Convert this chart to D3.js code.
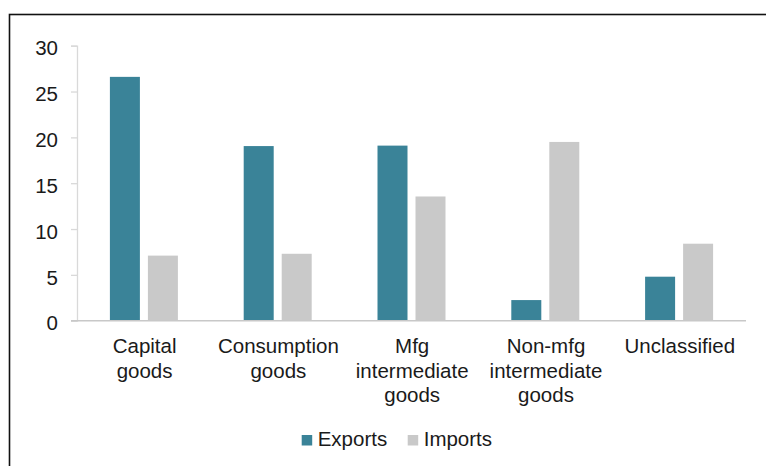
<!DOCTYPE html>
<html><head><meta charset="utf-8">
<script src="https://cdn.jsdelivr.net/npm/d3@7"></script>
<style>
html,body{margin:0;padding:0;background:#fff;}
svg{display:block;font-family:"Liberation Sans",Arial,sans-serif;}
</style></head>
<body>
<svg id="chart" width="766" height="466"></svg>
<script>
const categories = [["Capital","goods"],["Consumption","goods"],["Mfg","intermediate","goods"],["Non-mfg","intermediate","goods"],["Unclassified"]];
const seriesNames = ["Exports","Imports"];
const exportsVals = [26.6, 19.05, 19.1, 2.25, 4.8];
const importsVals = [7.1, 7.3, 13.55, 19.5, 8.4];
const yTicks = [0,5,10,15,20,25,30];
const colors = ["#3a8398","#c9c9c9"];

const svg = d3.select("#chart");
// frame
svg.append("rect").attr("x",9.5).attr("y",14.5).attr("width",800).attr("height",500)
  .attr("fill","none").attr("stroke","#111").attr("stroke-width",1.6);

const y = d3.scaleLinear().domain([0,30]).range([320.7,45.7]);
const x0 = d3.scaleBand().domain(d3.range(categories.length)).range([77,746]).paddingInner(0).paddingOuter(0);
const x1 = d3.scaleBand().domain(seriesNames).range([0,68]).paddingInner(2-68/38).paddingOuter(0);
const offset = (x0.bandwidth()-68)/2;

const yAxis = d3.axisLeft(y).tickValues(yTicks).tickSize(6).tickPadding(13);
const gy = svg.append("g").attr("transform","translate(77,0)").call(yAxis);
gy.select(".domain").attr("stroke","#d9d9d9").attr("stroke-width",1.3);
gy.selectAll(".tick line").attr("stroke","#d9d9d9").attr("stroke-width",1.3);
gy.selectAll(".tick text").attr("fill","#1a1a1a").style("font-size","20.5px").attr("dy","0.45em");

const data = [exportsVals, importsVals];
data.forEach((vals,si)=>{
  svg.append("g").selectAll("rect").data(vals).enter().append("rect")
    .attr("x",(d,i)=>x0(i)+offset+x1(seriesNames[si]))
    .attr("y",d=>y(d))
    .attr("width",x1.bandwidth())
    .attr("height",d=>y(0)-y(d))
    .attr("fill",colors[si]);
});

// baseline
svg.append("line").attr("x1",71).attr("x2",746).attr("y1",y(0)).attr("y2",y(0))
  .attr("stroke","#c8c8c8").attr("stroke-width",1.4);

// category labels
const lab = svg.append("g").selectAll("text").data(categories).enter().append("text")
  .attr("text-anchor","middle").attr("fill","#1a1a1a").style("font-size","20.5px");
lab.each(function(lines,i){
  const t = d3.select(this);
  lines.forEach((l,j)=>{
    t.append("tspan").attr("x",x0(i)+x0.bandwidth()/2+0.7).attr("y",353+j*24.5).text(l);
  });
});

// legend
const legX = [301.7, 407.7];
seriesNames.forEach((s,i)=>{
  svg.append("rect").attr("x",legX[i]).attr("y",435).attr("width",10.5).attr("height",10.5).attr("fill",colors[i]);
  svg.append("text").attr("x",legX[i]+16).attr("y",446).attr("fill","#1a1a1a").style("font-size","20.5px").text(s);
});
</script>
</body></html>
